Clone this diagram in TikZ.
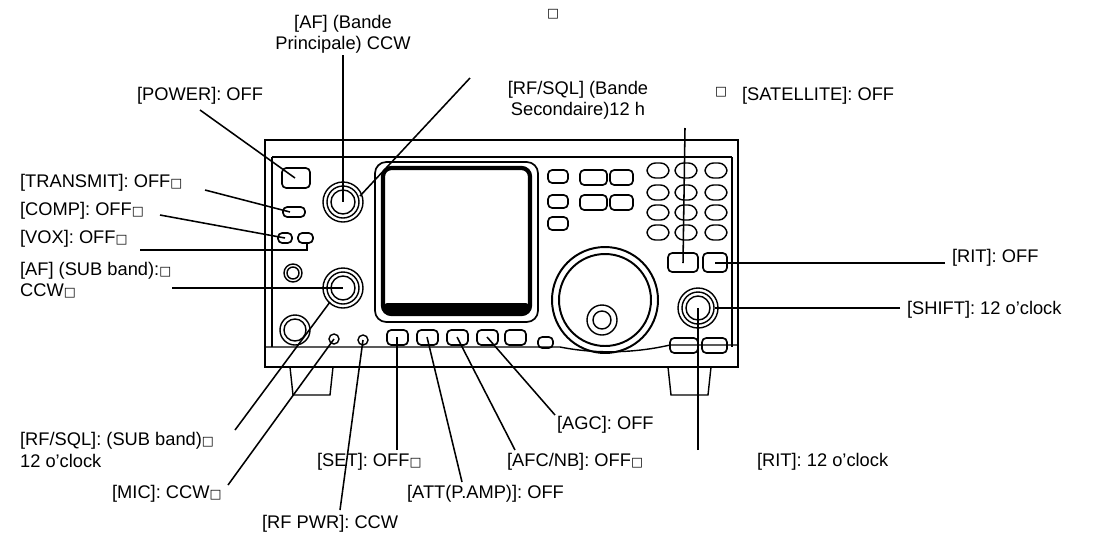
\documentclass[tikz,border=0pt]{standalone}
\usepackage{fontspec}
\setmainfont{Liberation Sans}
\newfontfamily\symfont{DejaVu Sans}
\usetikzlibrary{positioning}
\newcommand{\bx}{{\symfont\fontsize{9}{9}\selectfont □}}
\begin{document}
\begin{tikzpicture}[x=0.025cm,y=-0.025cm,line width=1pt]
    \tikzstyle{lbl}=[inner sep=1pt, font=\fontsize{13}{15}\selectfont, align=left]
    \tikzstyle{lead}=[line width=1.1pt]
    \tikzstyle{btn}=[rounded corners=3pt, line width=1.2pt]
    \useasboundingbox (0,0) rectangle (1098,542);
    % body
    \draw[line width=1.4pt] (265,140) rectangle (738,367);
    \draw (272,157) -- (732,157) (272,157) -- (272,347) (732,157) -- (732,347);
    \draw (265,347) -- (560,347) .. controls (600,355) and (640,352) .. (670,345) -- (738,345);
    \draw (290,367) -- (293,395) -- (330,395) -- (333,367);
    \draw (668,367) -- (671,395) -- (708,395) -- (711,367);
    % left controls
    \draw[btn] (282,168) rectangle (310,188);
    \draw[btn] (283,207) rectangle (305,217);
    \draw[btn] (278,233) rectangle (292,243);
    \draw[btn] (298,233) rectangle (313,243);
    \draw (293,273) circle (9) (293,273) circle (6);
    \draw (295,330) circle (15) (295,330) circle (11);
    \draw (334,339) circle (5) (363,340) circle (5);
    \foreach \c in {(343,202),(343,288),(698,308)}
      {\draw \c circle (20) \c circle (16) \c circle (12);}
    % display
    \draw[rounded corners=8pt, line width=1.2pt] (375,162) rectangle (538,322);
    \draw[rounded corners=6pt, line width=3pt] (383,168) rectangle (530,314);
    \fill[rounded corners=3pt] (383,303) rectangle (530,314);
    \foreach \x in {387,417,447,477,505}
      {\draw[btn] (\x,330) rectangle ++(21,15);}
    \draw[btn] (538,337) rectangle (553,348);
    % main dial
    \draw[line width=1.4pt] (605,300) circle (53) (605,300) circle (46);
    \draw (602,320) circle (15) (602,320) circle (9);
    % right buttons
    \foreach \y in {170,195,217} {\draw[btn] (548,\y) rectangle ++(20,13);}
    \foreach \y in {170,195} {\draw[btn] (580,\y) rectangle ++(27,15);
      \draw[btn] (610,\y) rectangle ++(23,15);}
    \foreach \x in {647,675,705} \foreach \y in {163,185,205,225}
      {\draw[rounded corners=6pt] (\x,\y) rectangle ++(22,15);}
    \draw[btn] (668,253) rectangle (698,272);
    \draw[btn] (703,253) rectangle (727,272);
    \draw[btn] (670,338) rectangle (698,353);
    \draw[btn] (702,338) rectangle (727,353);
    % labels
    \node[lbl, anchor=west] (power) at (135,96) {[POWER]: OFF};
    \node[lbl, align=center] (afmain) at (343,34) {[AF] (Bande\\Principale) CCW};
    \node[lbl] (sq1) at (553,14) {\bx};
    \node[lbl, align=center] (rfsqlmain) at (578,100) {[RF/SQL] (Bande\\Secondaire)12 h};
    \node[lbl] (sq2) at (721,92) {\bx};
    \node[lbl, anchor=west] (sat) at (740,96) {[SATELLITE]: OFF};
    \node[lbl, anchor=west] (tx) at (18,183) {[TRANSMIT]: OFF\bx};
    \node[lbl, anchor=west] (comp) at (18,211) {[COMP]: OFF\bx};
    \node[lbl, anchor=west] (vox) at (18,239) {[VOX]: OFF\bx};
    \node[lbl, anchor=west] (afsub) at (18,280) {[AF] (SUB band):\bx\\CCW\bx};
    \node[lbl, anchor=west] (rfsqlsub) at (18,450) {[RF/SQL]: (SUB band)\bx\\12 o'clock};
    \node[lbl, anchor=west] (mic) at (110,494) {[MIC]: CCW\bx};
    \node[lbl, anchor=west] (rfpwr) at (260,524) {[RF PWR]: CCW};
    \node[lbl, anchor=west] (set) at (315,462) {[SET]: OFF\bx};
    \node[lbl, anchor=west] (att) at (405,494) {[ATT(P.AMP)]: OFF};
    \node[lbl, anchor=west] (afc) at (505,462) {[AFC/NB]: OFF\bx};
    \node[lbl, anchor=west] (agc) at (555,425) {[AGC]: OFF};
    \node[lbl, anchor=west] (ritk) at (755,462) {[RIT]: 12 o'clock};
    \node[lbl, anchor=west] (rit) at (950,258) {[RIT]: OFF};
    \node[lbl, anchor=west] (shift) at (905,310) {[SHIFT]: 12 o'clock};
    % targets
    \coordinate (tPower) at (295,178);
    \coordinate (tAfm) at (343,202);
    \coordinate (tSqm) at (360,196);
    \coordinate (tSat) at (683,263);
    \coordinate (tTx) at (290,212);
    \coordinate (tComp) at (285,238);
    \coordinate (tVox) at (307,243);
    \coordinate (tAfs) at (343,288);
    \coordinate (tSqs) at (330,302);
    \coordinate (tMic) at (334,339);
    \coordinate (tPwr) at (363,340);
    \coordinate (tSet) at (397,337);
    \coordinate (tAtt) at (427,337);
    \coordinate (tAfc) at (457,337);
    \coordinate (tAgc) at (487,337);
    \coordinate (tRitk) at (698,308);
    \coordinate (tRit) at (715,263);
    \coordinate (tShift) at (715,308);
    % leaders
    \draw[lead] (200,110) -- (tPower);
    \draw[lead] (343,55) -- (tAfm);
    \draw[lead] (470,78) -- (tSqm);
    \draw[lead] (685,128) -- (tSat);
    \draw[lead] (205,190) -- (tTx);
    \draw[lead] (160,215) -- (tComp);
    \draw[lead] (140,250) -- (307,250) -- (tVox);
    \draw[lead] (172,288) -- (tAfs);
    \draw[lead] (235,430) -- (tSqs);
    \draw[lead] (228,485) -- (tMic);
    \draw[lead] (340,510) -- (tPwr);
    \draw[lead] (397,450) -- (tSet);
    \draw[lead] (462,482) -- (tAtt);
    \draw[lead] (515,450) -- (tAfc);
    \draw[lead] (555,415) -- (tAgc);
    \draw[lead] (698,450) -- (tRitk);
    \draw[lead] (945,263) -- (tRit);
    \draw[lead] (900,308) -- (tShift);
\end{tikzpicture}
\end{document}
